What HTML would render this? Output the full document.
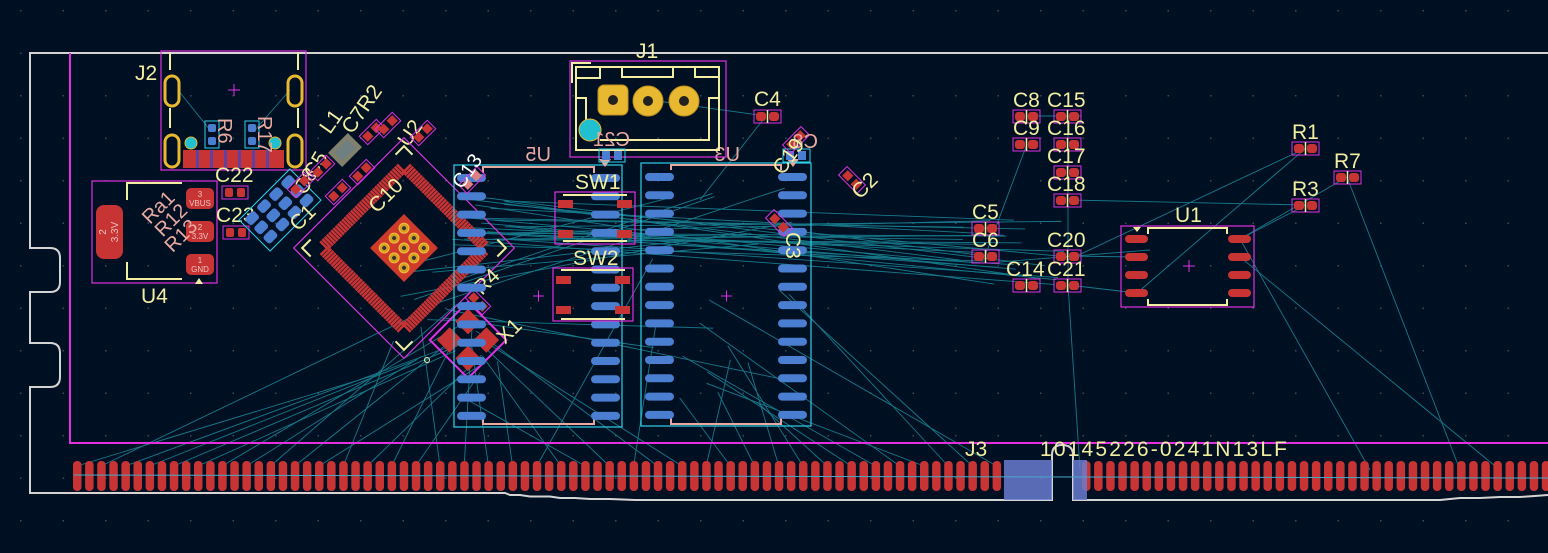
<!DOCTYPE html>
<html><head><meta charset="utf-8"><style>
html,body{margin:0;padding:0;background:#001023;overflow:hidden}
svg{display:block}
text{font-family:"Liberation Sans",sans-serif;}
.lb{fill:#f2eda1;font-size:21px}
.bk{fill:#e9a9a0;font-size:20px}
</style></head><body>
<svg id="s" width="1548" height="553" viewBox="0 0 1548 553" xmlns="http://www.w3.org/2000/svg">
<defs>
<pattern id="grid" width="42.5" height="42.5" patternUnits="userSpaceOnUse" x="20" y="10">
<rect x="0" y="0" width="1.5" height="1.5" fill="#3a4a5a"/>
</pattern>
</defs>
<rect width="1548" height="553" fill="#001023"/>
<rect width="1548" height="553" fill="url(#grid)"/>
<g id="rats" stroke="#1a8c9c" stroke-width="0.9" fill="none" opacity="0.85"></g>

<path d="M1548,53 H30 V248 H50 Q60,248 60,258 V282 Q60,292 50,292 H30 V343 H50 Q60,343 60,353 V377 Q60,387 50,387 H30 V493 H505 L510,495 H520 L530,496.5 H550 L560,498 H575 L590,499 H610 L635,500 H1052 V455 Q1052,445 1062,445 Q1073,445 1073,455 V500 H1440 L1460,498 H1480 L1500,497 H1520 L1548,495" fill="none" stroke="#d4d4d4" stroke-width="2"/>
<path d="M70,53 V443 H1548" fill="none" stroke="#e030e0" stroke-width="2"/>

<g id="j3"></g>
<rect x="1004" y="460" width="48" height="40" fill="#6a7bd0" opacity="0.85"/>
<rect x="1073" y="460" width="14" height="40" fill="#6a7bd0" opacity="0.85"/>
<line x1="74" y1="475" x2="1548" y2="478" stroke="#4aa8c8" stroke-width="1"/>
<text class="lb" x="965" y="456">J3</text>
<text class="lb" x="1040" y="456" textLength="247">10145226-0241N13LF</text>

<rect x="161" y="51" width="145" height="119" fill="none" stroke="#e030e0" stroke-width="1.2"/>
<line x1="170" y1="52" x2="170" y2="70" stroke="#f2eda1" stroke-width="2"/>
<line x1="298" y1="52" x2="298" y2="70" stroke="#f2eda1" stroke-width="2"/>
<line x1="170" y1="108" x2="170" y2="128" stroke="#f2eda1" stroke-width="2"/>
<line x1="298" y1="108" x2="298" y2="128" stroke="#f2eda1" stroke-width="2"/>
<g fill="none" stroke="#e8b830" stroke-width="3">
<rect x="165" y="76" width="14" height="30" rx="7"/><rect x="288" y="76" width="14" height="30" rx="7"/>
<rect x="165" y="135" width="14" height="32" rx="7"/><rect x="288" y="135" width="14" height="32" rx="7"/>
</g>
<rect x="183" y="150" width="101" height="18" fill="#c83434"/>
<g fill="#6040a0"><rect x="196" y="150" width="3" height="18"/><rect x="210" y="150" width="3" height="18"/><rect x="224" y="150" width="3" height="18"/><rect x="238" y="150" width="3" height="18"/><rect x="252" y="150" width="3" height="18"/><rect x="266" y="150" width="3" height="18"/></g>
<circle cx="191" cy="143" r="6" fill="#20c0d0" stroke="#e8b830"/><circle cx="275" cy="143" r="6" fill="#20c0d0" stroke="#e8b830"/>
<rect x="205" y="121" width="14" height="27" fill="none" stroke="#30d0e8"/><rect x="245" y="121" width="14" height="27" fill="none" stroke="#30d0e8"/>
<g fill="#4a7ed0"><rect x="208" y="124" width="8" height="8" rx="2"/><rect x="208" y="137" width="8" height="8" rx="2"/><rect x="248" y="124" width="8" height="8" rx="2"/><rect x="248" y="137" width="8" height="8" rx="2"/></g>
<text class="lb" x="135" y="80">J2</text>
<text class="bk" transform="translate(218,118) rotate(90)">R6</text>
<text class="bk" transform="translate(258,116) rotate(90)">R17</text>

<rect x="92" y="181" width="125" height="102" fill="none" stroke="#e030e0" stroke-width="1.2"/>
<path d="M127,200 V183 H182 M127,262 V279 H182" fill="none" stroke="#f2eda1" stroke-width="2"/>
<polygon points="199,278 195,284 203,284" fill="#f2eda1"/>
<rect x="96" y="205" width="27" height="54" rx="8" fill="#c83434"/>
<text transform="translate(106,232) rotate(-90)" fill="#f0c0c0" font-size="10" text-anchor="middle">2</text>
<text transform="translate(118,232) rotate(-90)" fill="#f0c0c0" font-size="10" text-anchor="middle">3.3V</text>
<rect x="186" y="188" width="28" height="21" rx="5" fill="#c83434"/>
<rect x="186" y="221" width="28" height="21" rx="5" fill="#c83434"/>
<rect x="186" y="254" width="28" height="21" rx="5" fill="#c83434"/>
<g fill="#f0c0c0" font-size="8" text-anchor="middle">
<text x="200" y="197">3</text><text x="200" y="206">VBUS</text>
<text x="200" y="230">2</text><text x="200" y="239">3.3V</text>
<text x="200" y="263">1</text><text x="200" y="272">GND</text></g>
<g transform="translate(150,225) rotate(-45)"><text x="0" y="0" class="bk" font-size="17">Ra1</text><text x="0" y="18" class="bk" font-size="17">R12</text><text x="-4" y="36" class="bk" font-size="17">R13</text></g>
<text class="lb" x="141" y="303">U4</text>

<rect x="222" y="186" width="26" height="13" fill="none" stroke="#e030e0"/><rect x="225" y="188" width="8" height="9" rx="2" fill="#c83434"/><rect x="237" y="188" width="8" height="9" rx="2" fill="#c83434"/>
<text class="lb" x="215" y="182">C22</text>
<rect x="223" y="226" width="26" height="13" fill="none" stroke="#e030e0"/><rect x="226" y="228" width="8" height="9" rx="2" fill="#c83434"/><rect x="238" y="228" width="8" height="9" rx="2" fill="#c83434"/>
<text class="lb" x="216" y="222">C23</text>

<g transform="translate(280,210) rotate(-45)">
<rect x="-36" y="-22" width="72" height="44" fill="none" stroke="#30d0e8"/>
<g id="barr"></g>
</g>
<text class="lb" transform="translate(298,232) rotate(-45)">C1</text>
<text class="lb" transform="translate(305,196) rotate(-60)">C8</text>
<text class="lb" transform="translate(315,180) rotate(-60)">C5</text>
<g transform="translate(345,150) rotate(-45)"><rect x="-14" y="-10" width="28" height="20" fill="#a09c80" opacity="0.8"/><rect x="-9" y="-6" width="18" height="12" fill="#708080"/></g>
<text class="lb" transform="translate(330,135) rotate(-55)">L1</text>
<text class="lb" transform="translate(352,135) rotate(-55)">C7R2</text>
<text class="lb" transform="translate(408,148) rotate(-55)">U2</text>
<g id="smalls"></g>

<g transform="translate(404,248) rotate(45)">
<rect x="-78" y="-78" width="156" height="156" fill="none" stroke="#e030e0" stroke-width="1.2"/>
<g id="qfp"></g>
<rect x="-24" y="-24" width="48" height="48" fill="#d03a2a"/>
<g id="vias"></g>
<path d="M-72,-60 V-72 H-60 M60,-72 H72 V-60 M72,60 V72 H60 M-60,72 H-72 V60" fill="none" stroke="#f2eda1" stroke-width="2"/>
</g>
<text class="lb" transform="translate(377,214) rotate(-45)">C10</text>

<g transform="translate(468,340) rotate(45)">
<rect x="-27" y="-27" width="54" height="54" fill="none" stroke="#e030e0" stroke-width="2"/>
<rect x="-22" y="-22" width="18" height="18" fill="#c83434"/><rect x="4" y="-22" width="18" height="18" fill="#c83434"/>
<rect x="-22" y="4" width="18" height="18" fill="#c83434"/><rect x="4" y="4" width="18" height="18" fill="#c83434"/>
</g>
<text class="lb" transform="translate(505,345) rotate(-45)">X1</text>
<g transform="translate(478,302) rotate(45)"><rect x="-12" y="-6" width="24" height="12" fill="none" stroke="#e030e0"/><rect x="-10" y="-4" width="8" height="8" fill="#c83434"/><rect x="2" y="-4" width="8" height="8" fill="#c83434"/></g>
<text class="lb" transform="translate(482,296) rotate(-45)">R4</text>
<circle cx="427" cy="360" r="2.5" fill="none" stroke="#f2eda1"/>

<rect x="454" y="165" width="168" height="262" fill="none" stroke="#30d0e8" stroke-width="1.2"/>
<path d="M483,173 V167 H594 V173 M483,418 V424 H594 V418" fill="none" stroke="#e9a9a0" stroke-width="2"/>
<g id="u5"></g>
<text class="bk" transform="translate(551,161) scale(-1,1)">U5</text>
<polygon points="605,167 611,159 599,159" fill="#e9a9a0"/>
<rect x="641" y="163" width="170" height="263" fill="none" stroke="#30d0e8" stroke-width="1.2"/>
<path d="M671,170 V165 H781 V170 M671,418 V424 H781 V418" fill="none" stroke="#e9a9a0" stroke-width="2"/>
<g id="u3"></g>
<text class="bk" transform="translate(740,161) scale(-1,1)">U3</text>
<polygon points="793,167 799,159 787,159" fill="#e9a9a0"/>
<path d="M533,296 h11 M538.5,290.5 v11 M721,296 h11 M726.5,290.5 v11" stroke="#e030e0"/>

<rect x="555" y="192" width="80" height="52" fill="none" stroke="#e030e0" stroke-width="1.2"/>
<path d="M563,195 H627 M563,241 H627" stroke="#f2eda1" stroke-width="2"/>
<rect x="558" y="200" width="15" height="8" fill="#c83434"/><rect x="617" y="200" width="15" height="8" fill="#c83434"/>
<rect x="558" y="230" width="15" height="8" fill="#c83434"/><rect x="617" y="230" width="15" height="8" fill="#c83434"/>
<text class="lb" x="575" y="189">SW1</text>
<rect x="553" y="268" width="80" height="53" fill="none" stroke="#e030e0" stroke-width="1.2"/>
<path d="M561,270 H625 M561,319 H625" stroke="#f2eda1" stroke-width="2"/>
<rect x="556" y="276" width="15" height="8" fill="#c83434"/><rect x="615" y="276" width="15" height="8" fill="#c83434"/>
<rect x="556" y="306" width="15" height="8" fill="#c83434"/><rect x="615" y="306" width="15" height="8" fill="#c83434"/>
<text class="lb" x="573" y="265">SW2</text>

<rect x="570" y="61" width="156" height="96" fill="none" stroke="#e030e0" stroke-width="1.2"/>
<path d="M572,83 V63 H591" fill="none" stroke="#f2eda1" stroke-width="2"/>
<path d="M576,67 H719 V150 H576 Z M576,98 H586 V140 M600,67 V78 H576 M622,67 V77 H673 V67 M695,67 V77 H719 M719,98 H709 V140 H600" fill="none" stroke="#f2eda1" stroke-width="2"/>
<rect x="598" y="85" width="30" height="30" rx="6" fill="#e8b830" stroke="#c09020"/>
<circle cx="648" cy="101" r="15" fill="#e8b830" stroke="#c09020"/><circle cx="684" cy="101" r="15" fill="#e8b830" stroke="#c09020"/>
<circle cx="613" cy="100" r="5" fill="#222"/><circle cx="648" cy="101" r="5" fill="#222"/><circle cx="684" cy="101" r="5" fill="#222"/>
<circle cx="590" cy="130" r="11" fill="#20c0d0" stroke="#e8b830"/>
<text class="lb" x="636" y="58">J1</text>
<rect x="599" y="149" width="26" height="13" fill="none" stroke="#30d0e8"/><rect x="602" y="151" width="8" height="9" fill="#4a7ed0"/><rect x="614" y="151" width="8" height="9" fill="#4a7ed0"/>
<text class="bk" transform="translate(630,146) scale(-1,1)">C21</text>

<rect x="783" y="149" width="27" height="13" fill="none" stroke="#30d0e8"/><rect x="786" y="151" width="8" height="9" fill="#4a7ed0"/><rect x="798" y="151" width="8" height="9" fill="#4a7ed0"/>
<g transform="translate(796,140) rotate(-45)"><rect x="-13" y="-6" width="26" height="12" fill="none" stroke="#e030e0"/><rect x="-10" y="-4" width="8" height="8" fill="#c83434"/><rect x="2" y="-4" width="8" height="8" fill="#c83434"/></g>
<text class="bk" transform="translate(818,148) scale(-1,1)">C8</text>
<text class="lb" transform="translate(783,176) rotate(-55)">C19</text>
<g transform="translate(779,223) rotate(45)"><rect x="-13" y="-6" width="26" height="12" fill="none" stroke="#e030e0"/><rect x="-10" y="-4" width="8" height="8" fill="#c83434"/><rect x="2" y="-4" width="8" height="8" fill="#c83434"/></g>
<text class="lb" transform="translate(786,232) rotate(90)">C3</text>
<g transform="translate(852,180) rotate(45)"><rect x="-13" y="-6" width="26" height="12" fill="none" stroke="#e030e0"/><rect x="-10" y="-4" width="8" height="8" fill="#c83434"/><rect x="2" y="-4" width="8" height="8" fill="#c83434"/></g>
<text class="lb" transform="translate(860,200) rotate(-45)">C2</text>
<g transform="translate(472,180) rotate(-45)"><rect x="-13" y="-6" width="26" height="12" fill="none" stroke="#e030e0"/><rect x="-10" y="-4" width="8" height="8" fill="#e08080"/><rect x="2" y="-4" width="8" height="8" fill="#e08080"/></g>
<text fill="#ffffff" font-size="20" transform="translate(462,190) rotate(-55)">C13</text>
<g id="caps"></g>
<text class="lb" x="754" y="106">C4</text>
<text class="lb" x="1013" y="107">C8</text><text class="lb" x="1047" y="107">C15</text>
<text class="lb" x="1013" y="135">C9</text><text class="lb" x="1047" y="135">C16</text>
<text class="lb" x="1047" y="163">C17</text><text class="lb" x="1047" y="191">C18</text>
<text class="lb" x="972" y="219">C5</text><text class="lb" x="972" y="247">C6</text>
<text class="lb" x="1047" y="247">C20</text>
<text class="lb" x="1006" y="276">C14</text><text class="lb" x="1047" y="276">C21</text>
<text class="lb" x="1292" y="139">R1</text><text class="lb" x="1334" y="168">R7</text><text class="lb" x="1292" y="196">R3</text>

<rect x="1121" y="226" width="133" height="81" fill="none" stroke="#e030e0" stroke-width="1.2"/>
<path d="M1148,234 V228 H1227 V234 M1148,299 V305 H1227 V299" fill="none" stroke="#f2eda1" stroke-width="2"/>
<polygon points="1133,227 1141,227 1137,232" fill="#f2eda1"/>
<g fill="#c83434">
<rect x="1125" y="235" width="23" height="8" rx="4"/><rect x="1125" y="253" width="23" height="8" rx="4"/><rect x="1125" y="271" width="23" height="8" rx="4"/><rect x="1125" y="289" width="23" height="8" rx="4"/>
<rect x="1228" y="235" width="23" height="8" rx="4"/><rect x="1228" y="253" width="23" height="8" rx="4"/><rect x="1228" y="271" width="23" height="8" rx="4"/><rect x="1228" y="289" width="23" height="8" rx="4"/></g>
<path d="M1183,266 h12 M1189,260 v12 M228,90 h12 M234,84 v12" stroke="#e030e0"/>
<text class="lb" x="1175" y="222">U1</text>
</svg>
<script>
var NS="http://www.w3.org/2000/svg";
function el(p,t,a){var e=document.createElementNS(NS,t);for(var k in a)e.setAttribute(k,a[k]);p.appendChild(e);return e;}
var j3=document.getElementById('j3');
var lx=[];
for(var x=73;x<1003;x+=12.1){el(j3,'rect',{x:x,y:461,width:8.5,height:30,rx:4,fill:'#c83434'});lx.push(x+4);}
for(var x=1082;x<1548;x+=12.1){el(j3,'rect',{x:x,y:461,width:8.5,height:30,rx:4,fill:'#c83434'});lx.push(x+4);}
var q=document.getElementById('qfp');
for(var i=0;i<36;i++){var t=-54+i*3.1;
el(q,'rect',{x:t-1.3,y:-64,width:2.6,height:12,fill:'#c83434'});
el(q,'rect',{x:t-1.3,y:52,width:2.6,height:12,fill:'#c83434'});
el(q,'rect',{x:-64,y:t-1.3,width:12,height:2.6,fill:'#c83434'});
el(q,'rect',{x:52,y:t-1.3,width:12,height:2.6,fill:'#c83434'});}
var v=document.getElementById('vias');
for(var a=-1;a<=1;a++)for(var b=-1;b<=1;b++){el(v,'circle',{cx:a*14,cy:b*14,r:5,fill:'#d8a020',stroke:'#f0c040'});el(v,'circle',{cx:a*14,cy:b*14,r:2,fill:'#333'});}
var ba=document.getElementById('barr');
for(var a=0;a<4;a++)for(var b=0;b<3;b++)el(ba,'rect',{x:-32+a*17,y:-19+b*13,width:13,height:10,rx:3,fill:'#4a7ed0'});
function col(id,xs,y0,n,st,w){var g=document.getElementById(id);xs.forEach(function(x){for(var i=0;i<n;i++)el(g,'rect',{x:x,y:y0+i*st,width:w,height:8,rx:4,fill:'#4a7ed0'});});}
col('u5',[457,591],174,14,18.3,29);
col('u3',[645,778],173,14,18.3,29);
var c=document.getElementById('caps');
function cap(x,y){el(c,'rect',{x:x,y:y,width:27,height:13,fill:'none',stroke:'#e030e0'});el(c,'rect',{x:x+2,y:y+2,width:10,height:9,rx:3,fill:'#c83434'});el(c,'rect',{x:x+15,y:y+2,width:10,height:9,rx:3,fill:'#c83434'});el(c,'line',{x1:x+13.5,y1:y,x2:x+13.5,y2:y+13,stroke:'#f2eda1','stroke-width':1.5});}
[[754,110],[1013,110],[1054,110],[1013,138],[1054,138],[1054,166],[1054,194],[972,222],[972,250],[1054,250],[1013,279],[1054,279],[1292,142],[1334,171],[1292,199]].forEach(function(p){cap(p[0],p[1]);});
var sm=document.getElementById('smalls');
[[300,185],[322,168],[338,192],[362,172],[372,132],[388,125],[423,133]].forEach(function(p){var g=el(sm,'g',{transform:'translate('+p[0]+','+p[1]+') rotate(-45)'});el(g,'rect',{x:-12,y:-6,width:24,height:12,fill:'none',stroke:'#e030e0'});el(g,'rect',{x:-10,y:-4,width:8,height:8,fill:'#c83434'});el(g,'rect',{x:2,y:-4,width:8,height:8,fill:'#c83434'});});
var r=document.getElementById('rats');
var seed=7;function rnd(){seed=(seed*16807)%2147483647;return seed/2147483647;}
function ln(a,b,c2,d){el(r,'line',{x1:a,y1:b,x2:c2,y2:d});}
for(var i=0;i<lx.length;i+=2){var x=lx[i];if(x>1000)continue;var tx,ty;
 if(x<470){tx=380+rnd()*110;ty=300+rnd()*80;}
 else if(x<700){var p=rnd();if(p<0.5){tx=460+rnd()*40;ty=300+rnd()*110;}else{tx=600+rnd()*60;ty=250+rnd()*150;}}
 else {tx=640+rnd()*170;ty=280+rnd()*130;}
 ln(x,466,tx,ty);}
for(var i=0;i<26;i++){ln(450+rnd()*60,195+rnd()*50,960+rnd()*110,220+rnd()*65);}
for(var i=0;i<10;i++){ln(400+rnd()*60,260+rnd()*60,650+rnd()*150,180+rnd()*220);}
[[1306,148,1137,293],[1306,205,1240,239],[1347,177,1240,239],[1240,239,1370,470],[1306,205,1068,200],[1306,148,1068,260],[1027,144,985,256],[1068,285,1080,470],[1068,116,1068,285],[1027,116,1081,116],[766,116,650,100],[985,256,790,230],[766,116,700,200],[1137,293,1068,285],[1150,250,1000,262],[1068,256,1137,257],[178,90,210,130],[290,90,255,130],[1347,177,1460,470],[1240,257,1500,470]].forEach(function(l){ln(l[0],l[1],l[2],l[3]);});
</script>
</body></html>
